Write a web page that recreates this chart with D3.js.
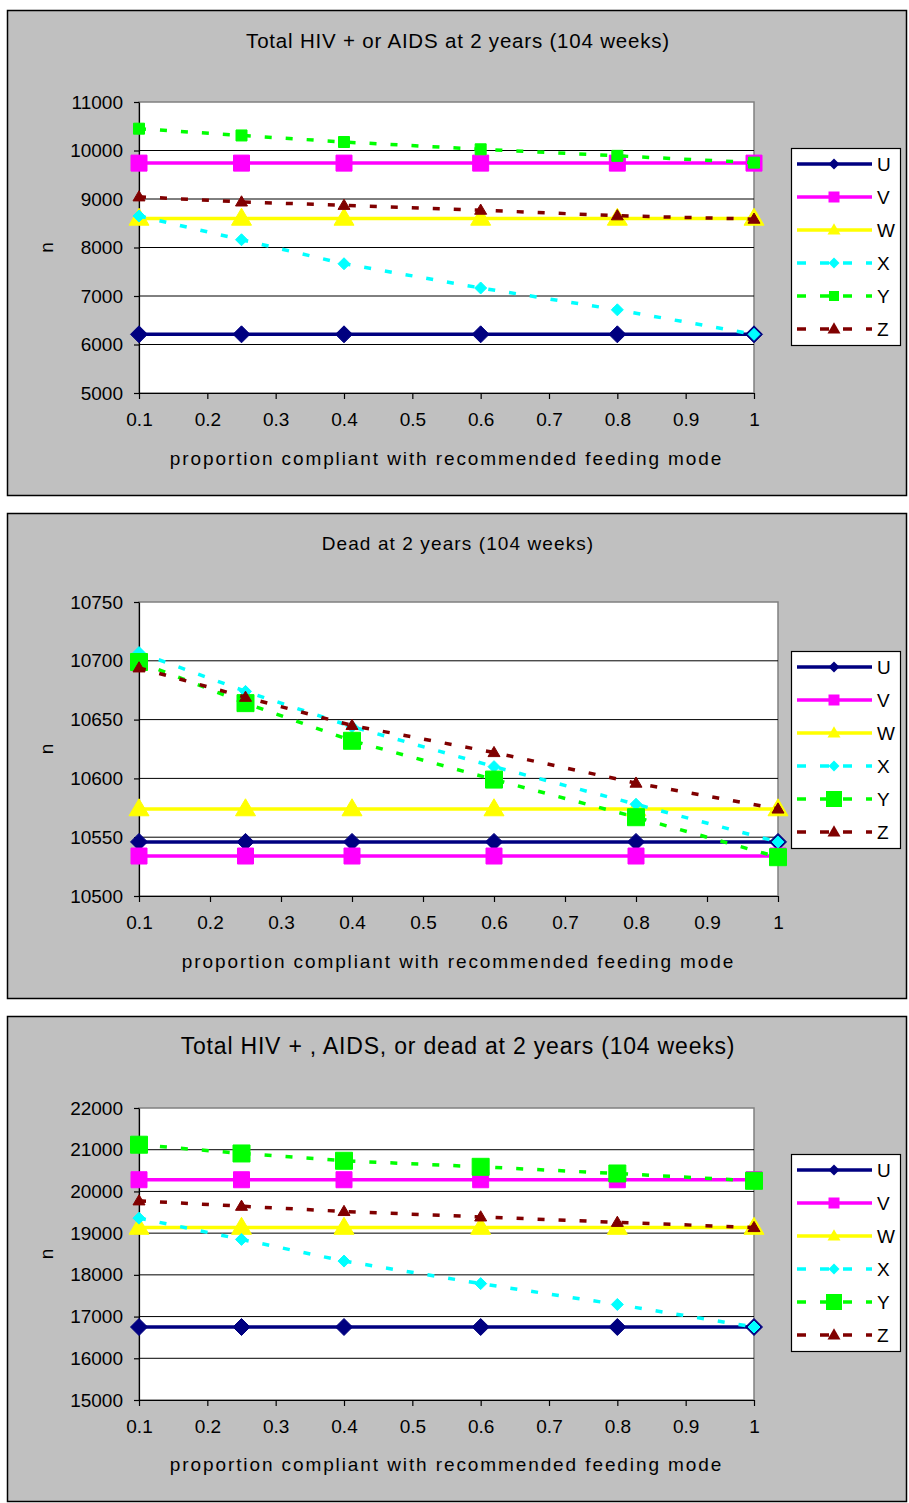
<!DOCTYPE html>
<html>
<head>
<meta charset="utf-8">
<script src="https://cdn.jsdelivr.net/npm/d3@7"></script>
<style>
  body { margin: 0; background: #fff; }
  svg { display: block; }
  text { font-family: "Liberation Sans", Arial, sans-serif; fill: #000; }
</style>
</head>
<body>
<div id="chart"></div>
<script>
// data
const xValues = [0.1, 0.25, 0.4, 0.6, 0.8, 1];
const xTicks = [0.1, 0.2, 0.3, 0.4, 0.5, 0.6, 0.7, 0.8, 0.9, 1];
const seriesNames = ["U", "V", "W", "X", "Y", "Z"];
const seriesColors = ["#000080", "#FF00FF", "#FFFF00", "#00FFFF", "#00FF00", "#800000"];
const seriesDashed = [false, false, false, true, true, true];
const seriesShapes = ["diamond", "square", "triangle", "diamond", "square", "triangle"];

const panelTitles = [
  "Total HIV + or AIDS at 2 years (104 weeks)",
  "Dead at 2 years (104 weeks)",
  "Total HIV + , AIDS, or dead at 2 years (104 weeks)"
];
const xTitle = "proportion compliant with recommended feeding mode";
const yTitle = "n";

const hivTicks = [5000, 6000, 7000, 8000, 9000, 10000, 11000];
const hivValues = [
  [6210, 6210, 6210, 6210, 6210, 6210],
  [9740, 9740, 9740, 9740, 9740, 9740],
  [8600, 8600, 8600, 8600, 8600, 8600],
  [8650, 8160, 7665, 7165, 6715, 6210],
  [10450, 10310, 10175, 10025, 9890, 9750],
  [9045, 8940, 8870, 8770, 8655, 8585]
];

const deadTicks = [10500, 10550, 10600, 10650, 10700, 10750];
const deadValues = [
  [10546, 10546, 10546, 10546, 10546, 10546],
  [10534, 10534, 10534, 10534, 10534, 10534],
  [10574, 10574, 10574, 10574, 10574, 10574],
  [10707, 10674, 10644, 10610, 10578, 10546],
  [10699, 10664, 10632, 10599, 10567, 10533],
  [10694, 10669, 10645, 10622, 10596, 10574]
];

const totalTicks = [15000, 16000, 17000, 18000, 19000, 20000, 21000, 22000];
const totalValues = [
  [16750, 16750, 16750, 16750, 16750, 16750],
  [20280, 20280, 20280, 20280, 20280, 20280],
  [19135, 19135, 19135, 19135, 19135, 19135],
  [19360, 18850, 18330, 17790, 17290, 16750],
  [21120, 20910, 20735, 20590, 20430, 20255],
  [19775, 19645, 19520, 19390, 19260, 19135]
];

const width = 909, height = 1503;

const panels = [
  { top: 10, plotTop: 102, plotBottom: 393, plotRight: 754, titleSize: 20.5, titleSpacing: 0.8, ticks: hivTicks, values: hivValues, ySquare: 11, legendSquare: 10 },
  { top: 513, plotTop: 602, plotBottom: 896, plotRight: 778, titleSize: 19, titleSpacing: 1.1, ticks: deadTicks, values: deadValues, ySquare: 17, legendSquare: 16 },
  { top: 1016, plotTop: 1108, plotBottom: 1400, plotRight: 754, titleSize: 23, titleSpacing: 0.8, ticks: totalTicks, values: totalValues, ySquare: 17, legendSquare: 16 }
];

const svg = d3.select("#chart").append("svg")
  .attr("width", width)
  .attr("height", height);

// marker path, s = full width in px
function marker(shape, s) {
  const r = s / 2;
  if (shape === "diamond") return `M0,${-r}L${r},0L0,${r}L${-r},0Z`;
  if (shape === "square") return `M${-r},${-r}H${r}V${r}H${-r}Z`;
  const h = s * 0.85;
  return `M0,${-h * 0.6}L${r},${h * 0.4}L${-r},${h * 0.4}Z`;
}

function markerSize(i, p) {
  // big for solid series, smaller for the dashed ones
  return [17, 16, 20, 12, p.ySquare, 12][i];
}

panels.forEach((p, pi) => {
  const g = svg.append("g");
  const plotLeft = 139;

  g.append("rect")
    .attr("x", 7.5).attr("y", p.top + 0.5)
    .attr("width", 899).attr("height", 485)
    .attr("fill", "#C0C0C0")
    .attr("stroke", "#000")
    .attr("stroke-width", 1.5);

  g.append("text")
    .attr("x", 458).attr("y", p.top + 30)
    .attr("text-anchor", "middle")
    .attr("dominant-baseline", "central")
    .attr("font-size", p.titleSize)
    .attr("letter-spacing", p.titleSpacing)
    .text(panelTitles[pi]);

  const x = d3.scaleLinear().domain([0.1, 1]).range([plotLeft, p.plotRight]);
  const y = d3.scaleLinear().domain(d3.extent(p.ticks)).range([p.plotBottom, p.plotTop]);

  g.append("rect")
    .attr("x", plotLeft).attr("y", p.plotTop)
    .attr("width", p.plotRight - plotLeft).attr("height", p.plotBottom - p.plotTop)
    .attr("fill", "#fff")
    .attr("stroke", "#808080")
    .attr("stroke-width", 1.5);

  // gridlines
  g.append("g").selectAll("line")
    .data(p.ticks.slice(1, -1))
    .join("line")
    .attr("x1", plotLeft).attr("x2", p.plotRight)
    .attr("y1", d => y(d)).attr("y2", d => y(d))
    .attr("stroke", "#000").attr("stroke-width", 1);

  const yAxis = g.append("g")
    .attr("transform", `translate(${plotLeft},0)`)
    .call(d3.axisLeft(y).tickValues(p.ticks).tickFormat(d3.format("d")).tickSize(5).tickSizeOuter(0).tickPadding(11));
  const xAxis = g.append("g")
    .attr("transform", `translate(0,${p.plotBottom})`)
    .call(d3.axisBottom(x).tickValues(xTicks).tickFormat(d => String(d)).tickSize(6).tickSizeOuter(0).tickPadding(14));
  [yAxis, xAxis].forEach(a => {
    a.selectAll("path,line").attr("stroke", "#000").attr("stroke-width", 1.2);
    a.selectAll("text").attr("font-size", 19).attr("font-family", "'Liberation Sans', Arial, sans-serif");
  });

  g.append("text")
    .attr("x", (plotLeft + p.plotRight) / 2)
    .attr("y", p.top + 448)
    .attr("text-anchor", "middle")
    .attr("dominant-baseline", "central")
    .attr("font-size", 19)
    .attr("letter-spacing", 1.9)
    .text(xTitle);

  g.append("text")
    .attr("transform", `translate(46,${(p.plotTop + p.plotBottom) / 2}) rotate(-90)`)
    .attr("text-anchor", "middle")
    .attr("dominant-baseline", "central")
    .attr("font-size", 19)
    .text(yTitle);

  const line = d3.line().x((d, i) => x(xValues[i])).y(d => y(d));

  p.values.forEach((vals, si) => {
    const col = seriesColors[si];
    g.append("path")
      .attr("d", line(vals))
      .attr("fill", "none")
      .attr("stroke", col)
      .attr("stroke-width", 3.5)
      .attr("stroke-dasharray", seriesDashed[si] ? "7,14" : null);
    g.append("g").selectAll("path")
      .data(vals)
      .join("path")
      .attr("transform", (d, i) => `translate(${x(xValues[i])},${y(d)})`)
      .attr("d", marker(seriesShapes[si], markerSize(si, p)))
      .attr("fill", col)
      .attr("stroke", col)
      .attr("stroke-width", 1);
  });

  // legend
  const lg = g.append("g");
  lg.append("rect")
    .attr("x", 791.5).attr("y", p.top + 138.5)
    .attr("width", 109).attr("height", 197)
    .attr("fill", "#fff").attr("stroke", "#000").attr("stroke-width", 1.2);
  seriesNames.forEach((name, si) => {
    const cy = p.top + 154 + si * 33;
    lg.append("line")
      .attr("x1", 797).attr("x2", 872)
      .attr("y1", cy).attr("y2", cy)
      .attr("stroke", seriesColors[si])
      .attr("stroke-width", 3.5)
      .attr("stroke-dasharray", seriesDashed[si] ? "9,14" : null);
    const ms = si === 4 ? p.legendSquare : (seriesShapes[si] === "triangle" ? 13 : 11);
    lg.append("path")
      .attr("transform", `translate(834,${cy})`)
      .attr("d", marker(seriesShapes[si], ms))
      .attr("fill", seriesColors[si]);
    lg.append("text")
      .attr("x", 877).attr("y", cy)
      .attr("dominant-baseline", "central")
      .attr("font-size", 19)
      .text(name);
  });
});
</script>
</body>
</html>
